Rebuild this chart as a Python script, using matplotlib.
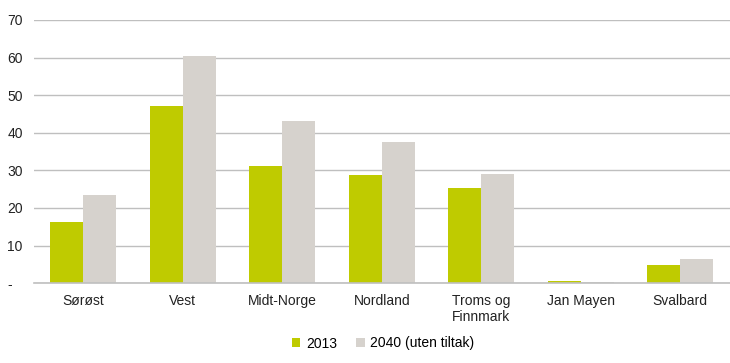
import numpy as np
import matplotlib.pyplot as plt
from matplotlib.ticker import FuncFormatter

regions = ["Sørøst", "Vest", "Midt-Norge", "Nordland", "Troms og\nFinnmark", "Jan Mayen", "Svalbard"]
vals_2013 = [16.3, 47.0, 31.2, 28.7, 25.2, 0.5, 4.8]
vals_2040 = [23.5, 60.5, 43.0, 37.5, 29.0, 0.4, 6.5]
series_labels = ["2013", "2040 (uten tiltak)"]

green = "#BFCB00"
grey = "#D6D2CD"

plt.rcParams.update({
    'font.family': ['Liberation Sans', 'DejaVu Sans'],
    'font.size': 10,
})

fig = plt.figure(figsize=(7.3, 3.63), dpi=100)
ax = fig.add_axes([0.046, 0.22, 0.954, 0.725])

x = np.arange(len(regions))
w = 1 / 3
ax.bar(x - w / 2, vals_2013, w, color=green, label=series_labels[0], zorder=3)
ax.bar(x + w / 2, vals_2040, w, color=grey, label=series_labels[1], zorder=3)

ax.set_xlim(-0.5, len(regions) - 0.5)
ax.set_ylim(0, 70)
ax.set_yticks(np.arange(0, 71, 10))
ax.yaxis.set_major_formatter(FuncFormatter(lambda v, p: "-" if v == 0 else f"{v:.0f}"))
ax.set_xticks(x)
ax.set_xticklabels(regions, va='top', ha='center')
ax.tick_params(axis='both', length=0, colors='#222222', labelsize=10)
ax.tick_params(axis='x', pad=8)
ax.tick_params(axis='y', pad=19)
for lbl in ax.get_yticklabels():
    lbl.set_horizontalalignment('left')

ax.grid(axis='y', color='#BFBFBF', linewidth=1, zorder=0)
for s in ['top', 'right', 'left']:
    ax.spines[s].set_visible(False)
ax.spines['bottom'].set_color('#BFBFBF')
ax.spines['bottom'].set_linewidth(1.2)
ax.spines['bottom'].set_zorder(4)

fig.legend(loc='lower center', bbox_to_anchor=(0.525, 0.0), ncol=2, frameon=False,
           handlelength=0.6, handleheight=0.6, handletextpad=0.4, columnspacing=1.4,
           fontsize=10)

fig.savefig("out.png", dpi=100)
